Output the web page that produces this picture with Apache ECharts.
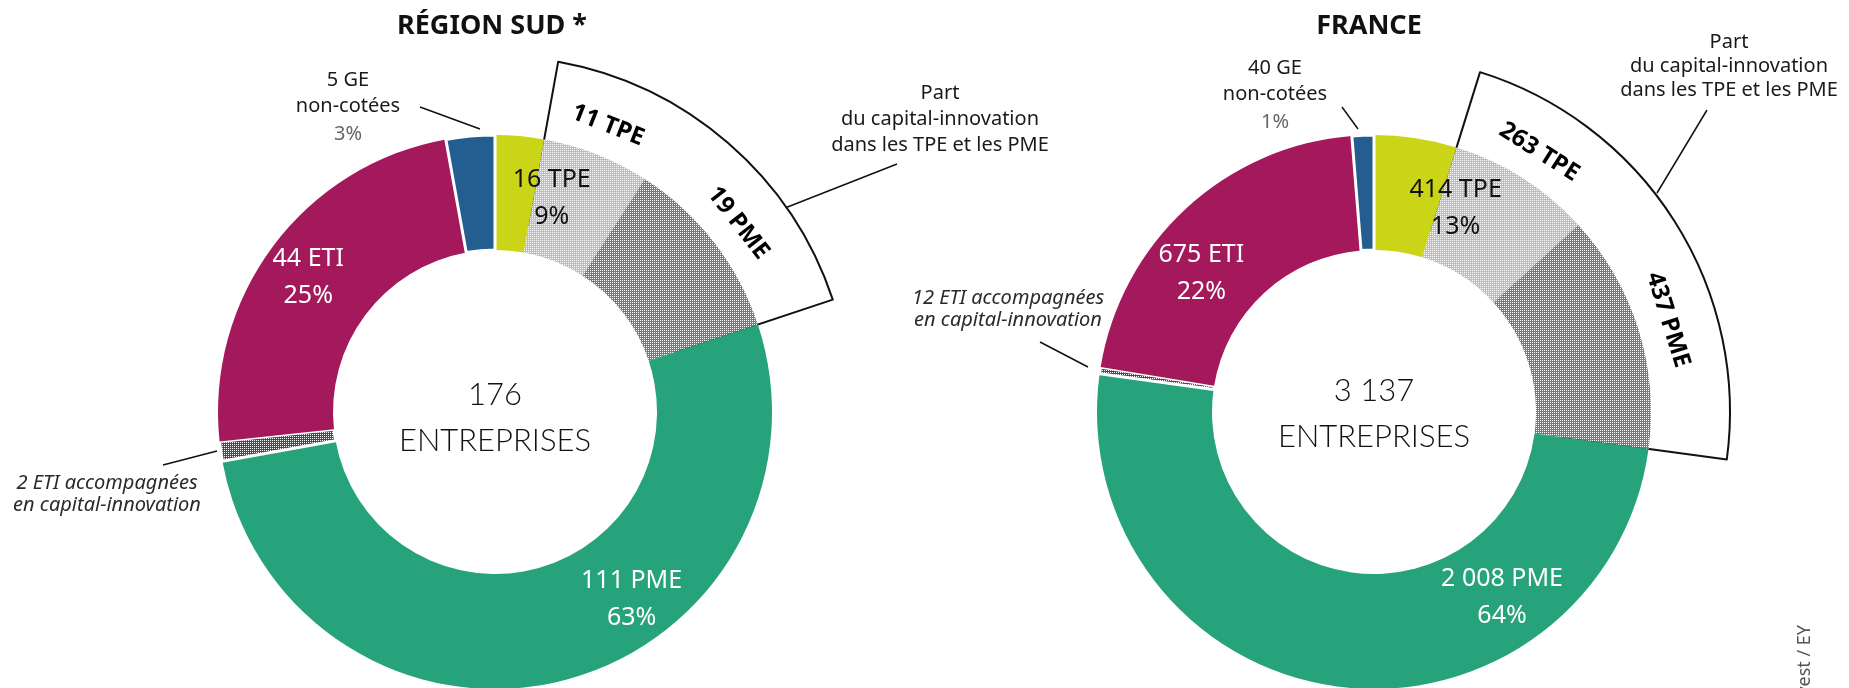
<!DOCTYPE html>
<html>
<head>
<meta charset="utf-8">
<script src="https://cdn.jsdelivr.net/npm/echarts@6/dist/echarts.min.js"></script>
<style>
  html, body { margin: 0; padding: 0; background: #fff; }
  #main { width: 1849px; height: 688px; }
</style>
</head>
<body>
<div id="main"></div>
<script>
// Categories, clockwise from 12 o'clock
const categories = ["TPE", "PME", "ETI", "GE"];

// Région Sud: companies per category, and those backed by capital-innovation
const sudCounts = [16, 111, 44, 5];
const sudInnovation = [11, 19, 2, 0];

// France
const franceCounts = [414, 2008, 675, 40];
const franceInnovation = [263, 437, 12, 0];

const colors = ["#CBD517", "#26A37A", "#A3195B", "#245E91"];
const FONT = "'Noto Sans', 'DejaVu Sans', sans-serif";
const CLEAR = "rgba(0,0,0,0)";

function fmt(n) {
  return String(n).replace(/\B(?=(\d{3})+(?!\d))/g, " ");
}

function sum(arr) {
  return arr.reduce((a, b) => a + b, 0);
}

// dotted fill used for the capital-innovation share
function hatch(color) {
  const c = document.createElement("canvas");
  c.width = 2;
  c.height = 2;
  const ctx = c.getContext("2d");
  ctx.fillStyle = color;
  ctx.fillRect(0, 0, 2, 2);
  ctx.fillStyle = "#fff";
  ctx.fillRect(0, 0, 1, 1);
  return { image: c, repeat: "repeat" };
}

function buildSeries(counts, innovation, center, labelShift) {
  const total = sum(counts);

  // main ring: hatched parts sit next to the TPE/PME and PME/ETI borders
  const ring = [];
  categories.forEach((cat, i) => {
    const solid = { name: cat, value: counts[i] - innovation[i], itemStyle: { color: colors[i] } };
    const dotted = { name: cat, value: innovation[i], itemStyle: { color: hatch(colors[i]) } };
    if (cat === "ETI") dotted.itemStyle.borderColor = "#fff", dotted.itemStyle.borderWidth = 3;
    if (cat === "GE") solid.itemStyle.borderColor = "#fff", solid.itemStyle.borderWidth = 3;
    const pair = i === 0 ? [solid, dotted] : [dotted, solid];
    pair.forEach((d) => { if (d.value > 0) ring.push(d); });
  });

  const lead = counts[0] - innovation[0];
  const span = innovation[0] + innovation[1];
  const rest = total - lead - span;

  const common = {
    type: "pie",
    center: center,
    startAngle: 90,
    clockwise: true,
    padAngle: 0,
    minAngle: 0,
    avoidLabelOverlap: false,
    silent: true,
    animation: false,
    emphasis: { disabled: true },
    labelLine: { show: false },
    itemStyle: { borderWidth: 0 },
  };

  return [
    // bracket around the capital-innovation share
    Object.assign({}, common, {
      z: 1,
      radius: [190, 356],
      label: { show: false },
      data: [
        { value: lead, itemStyle: { color: CLEAR } },
        { value: span, itemStyle: { color: "#fff", borderColor: "#111", borderWidth: 2 } },
        { value: rest, itemStyle: { color: CLEAR } },
      ],
    }),
    Object.assign({}, common, {
      z: 2,
      radius: [162, 277],
      label: { show: false },
      data: ring,
    }),
    // category totals and shares
    Object.assign({}, common, {
      z: 3,
      radius: [162, 277],
      percentPrecision: 0,
      label: {
        show: true,
        position: "inside",
        fontFamily: FONT,
        fontSize: 25,
        lineHeight: 37,
        textBorderWidth: 0,
        formatter: (p) => fmt(p.value) + " " + p.name + "\n" + p.percent + "%",
      },
      labelLayout: (p) => ({ dx: labelShift[p.dataIndex][0], dy: labelShift[p.dataIndex][1] }),
      data: categories.map((cat, i) => ({
        name: cat,
        value: counts[i],
        itemStyle: { color: CLEAR },
        label: { show: cat !== "GE", color: cat === "TPE" ? "#111" : "#fff" },
      })),
    }),
    // capital-innovation counts inside the bracket
    Object.assign({}, common, {
      z: 3,
      radius: [280, 330],
      label: {
        show: true,
        position: "inside",
        rotate: "tangential",
        fontFamily: FONT,
        fontWeight: "bold",
        fontSize: 24,
        color: "#000",
        textBorderWidth: 0,
        formatter: (p) => fmt(p.value) + " " + p.name,
      },
      data: [
        { value: lead, itemStyle: { color: CLEAR }, label: { show: false } },
        { name: categories[0], value: innovation[0], itemStyle: { color: CLEAR } },
        { name: categories[1], value: innovation[1], itemStyle: { color: CLEAR } },
        { value: rest, itemStyle: { color: CLEAR }, label: { show: false } },
      ],
    }),
  ];
}

function text(x, y, str, font, fill, align) {
  return {
    type: "text",
    silent: true,
    style: {
      text: str, x: x, y: y, font: font, fill: fill,
      textAlign: align || "center", textVerticalAlign: "middle",
    },
  };
}

function line(x1, y1, x2, y2) {
  return {
    type: "line",
    silent: true,
    shape: { x1: x1, y1: y1, x2: x2, y2: y2 },
    style: { stroke: "#111", lineWidth: 1.5 },
  };
}

function callouts(counts, innovation, pos) {
  const ge = counts[3];
  const gePct = Math.round((ge / sum(counts)) * 100);
  const body = "20px " + FONT;
  const italic = "italic 20px " + FONT;
  return [
    text(pos.title[0], pos.title[1], pos.name, "bold 27px " + FONT, "#111"),
    text(pos.ge[0], pos.ge[1], fmt(ge) + " GE", body, "#1a1a1a"),
    text(pos.ge[0], pos.ge[1] + 26, "non-cotées", body, "#1a1a1a"),
    text(pos.ge[0], pos.ge[1] + 54, gePct + "%", body, "#666"),
    line.apply(null, pos.geLine),
    text(pos.part[0], pos.part[1], "Part", body, "#1a1a1a"),
    text(pos.part[0], pos.part[1] + pos.partGap, "du capital-innovation", body, "#1a1a1a"),
    text(pos.part[0], pos.part[1] + pos.partGap * 2, "dans les TPE et les PME", body, "#1a1a1a"),
    line.apply(null, pos.partLine),
    text(pos.eti[0], pos.eti[1], fmt(innovation[2]) + " ETI accompagnées", italic, "#2a2a2a"),
    text(pos.eti[0], pos.eti[1] + 22, "en capital-innovation", italic, "#2a2a2a"),
    line.apply(null, pos.etiLine),
    text(pos.total[0], pos.total[1], fmt(sum(counts)), "300 31px Lato, " + FONT, "#111"),
    text(pos.total[0], pos.total[1] + 46, "ENTREPRISES", "300 31px Lato, " + FONT, "#111"),
  ];
}

const sudLayout = {
  name: "RÉGION SUD *",
  title: [492, 26],
  ge: [348, 80],
  geLine: [420, 107, 480, 129],
  part: [940, 93],
  partGap: 26,
  partLine: [897, 164, 785, 208],
  eti: [107, 483],
  etiLine: [163, 465, 217, 451],
  total: [495, 395],
};

const franceLayout = {
  name: "FRANCE",
  title: [1369, 26],
  ge: [1275, 68],
  geLine: [1342, 107, 1358, 129],
  part: [1729, 42],
  partGap: 24,
  partLine: [1707, 110, 1657, 193],
  eti: [1008, 298],
  etiLine: [1040, 342, 1088, 367],
  total: [1374, 391],
};

// source note, cut by the bottom edge as in the original
const source = text(1805, 625, "Sources : France Invest / EY", "18px " + FONT, "#555", "right");
source.rotation = Math.PI / 2;
source.originX = 1805;
source.originY = 625;

const chart = echarts.init(document.getElementById("main"), null, { renderer: "canvas" });
chart.setOption({
  animation: false,
  backgroundColor: "#fff",
  series: [].concat(
    buildSeries(sudCounts, sudInnovation, [495, 412], [[-6, 0], [13, 2], [-4, -8], [0, 0]]),
    buildSeries(franceCounts, franceInnovation, [1374, 412], [[-8, 0], [62, -27], [-20, 23], [0, 0]])
  ),
  graphic: [].concat(
    callouts(sudCounts, sudInnovation, sudLayout),
    callouts(franceCounts, franceInnovation, franceLayout),
    [source]
  ),
});
</script>
</body>
</html>
